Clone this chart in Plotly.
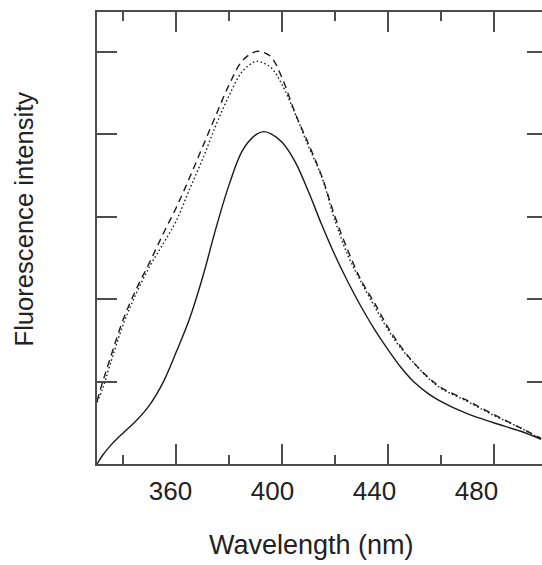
import plotly.graph_objects as go

# Wavelength grid (nm)
wavelength = [330, 332, 335, 340, 345, 350, 355, 360, 365, 370, 375, 380, 385, 390,
              393, 396, 400, 405, 410, 415, 420, 425, 430, 435, 440, 445, 450, 455,
              460, 470, 480, 490, 498]

# Fluorescence intensity (arbitrary units)
solid_vals = [0.00, 0.10, 0.22, 0.38, 0.53, 0.72, 0.99, 1.36, 1.76, 2.27, 2.86, 3.39,
              3.80, 3.99, 4.03, 4.00, 3.90, 3.66, 3.30, 2.90, 2.53, 2.20, 1.90, 1.63,
              1.39, 1.17, 0.99, 0.86, 0.76, 0.61, 0.50, 0.40, 0.30]
dashed_vals = [0.76, 0.98, 1.28, 1.76, 2.13, 2.45, 2.79, 3.11, 3.47, 3.85, 4.23, 4.60,
               4.89, 5.00, 4.99, 4.93, 4.68, 4.25, 3.88, 3.49, 3.00, 2.58, 2.22, 1.95,
               1.66, 1.42, 1.22, 1.06, 0.93, 0.77, 0.60, 0.44, 0.31]
dotted_vals = [0.75, 0.90, 1.21, 1.70, 2.08, 2.40, 2.67, 2.95, 3.33, 3.70, 4.11, 4.47,
               4.76, 4.88, 4.86, 4.80, 4.60, 4.24, 3.85, 3.48, 2.95, 2.52, 2.20, 1.91,
               1.63, 1.40, 1.22, 1.05, 0.92, 0.76, 0.59, 0.44, 0.30]

x_major = [360, 400, 440, 480]
x_minor = [340, 380, 420, 460]
x_labels = ["360", "400", "440", "480"]
y_ticks = [1, 2, 3, 4, 5]

LINE = "#1a1a1a"
AXIS = "#4d4d4d"
FONT = "Liberation Sans, Arial, sans-serif"

fig = go.Figure()
fig.add_trace(go.Scatter(x=wavelength, y=solid_vals, mode="lines", line_shape="spline",
                         line=dict(color=LINE, width=1.4), showlegend=False))
fig.add_trace(go.Scatter(x=wavelength, y=dashed_vals, mode="lines", line_shape="spline",
                         line=dict(color=LINE, width=1.4, dash="7px,5px"), showlegend=False))
fig.add_trace(go.Scatter(x=wavelength, y=dotted_vals, mode="lines", line_shape="spline",
                         line=dict(color=LINE, width=1.4, dash="1.5px,2.5px"), showlegend=False))
# invisible trace to carry the label axis
fig.add_trace(go.Scatter(x=[360, 480], y=[None, None], xaxis="x2", yaxis="y2",
                         mode="lines", showlegend=False, hoverinfo="skip"))

fig.update_layout(
    width=542, height=565,
    margin=dict(l=97, r=0, t=12, b=101),
    paper_bgcolor="white", plot_bgcolor="white",
    font=dict(family=FONT, color="#222222", size=26),
    xaxis=dict(range=[330, 498.3], showline=True, linecolor=AXIS, linewidth=2,
               mirror="ticks", ticks="inside", tickvals=x_major, ticklen=20,
               tickwidth=2, tickcolor=AXIS, showticklabels=False, showgrid=False,
               zeroline=False,
               minor=dict(tickvals=x_minor, ticks="inside", ticklen=9, tickwidth=2,
                          tickcolor=AXIS, showgrid=False)),
    yaxis=dict(range=[0, 5.48], showline=True, linecolor=AXIS, linewidth=2,
               ticks="inside", tickvals=y_ticks, ticklen=20, tickwidth=2,
               tickcolor=AXIS, showticklabels=False, showgrid=False, zeroline=False),
    xaxis2=dict(overlaying="x", anchor="y", side="bottom", range=[331.2, 505.7],
                showline=False, ticks="", tickvals=x_major, ticktext=x_labels,
                ticklabelstandoff=9,
                showgrid=False, zeroline=False, tickfont=dict(size=26, color="#222222")),
    yaxis2=dict(overlaying="y", side="right", anchor="x", range=[0, 5.48],
                showline=False, ticks="inside", tickvals=y_ticks, ticklen=15,
                tickwidth=2, tickcolor=AXIS, showticklabels=False, showgrid=False,
                zeroline=False),
    annotations=[
        dict(text="Wavelength (nm)", xref="paper", yref="paper", x=0.482, y=-0.18,
             xanchor="center", yanchor="middle", showarrow=False,
             font=dict(size=27, color="#222222")),
        dict(text="Fluorescence intensity", xref="paper", yref="paper", x=-0.164,
             y=0.541, xanchor="center", yanchor="middle", textangle=-90,
             showarrow=False, font=dict(size=25.6, color="#222222")),
    ],
)

fig.write_html("out.html", config={"displayModeBar": False},
               post_script="document.body.style.margin='0';document.body.style.overflow='hidden';")
